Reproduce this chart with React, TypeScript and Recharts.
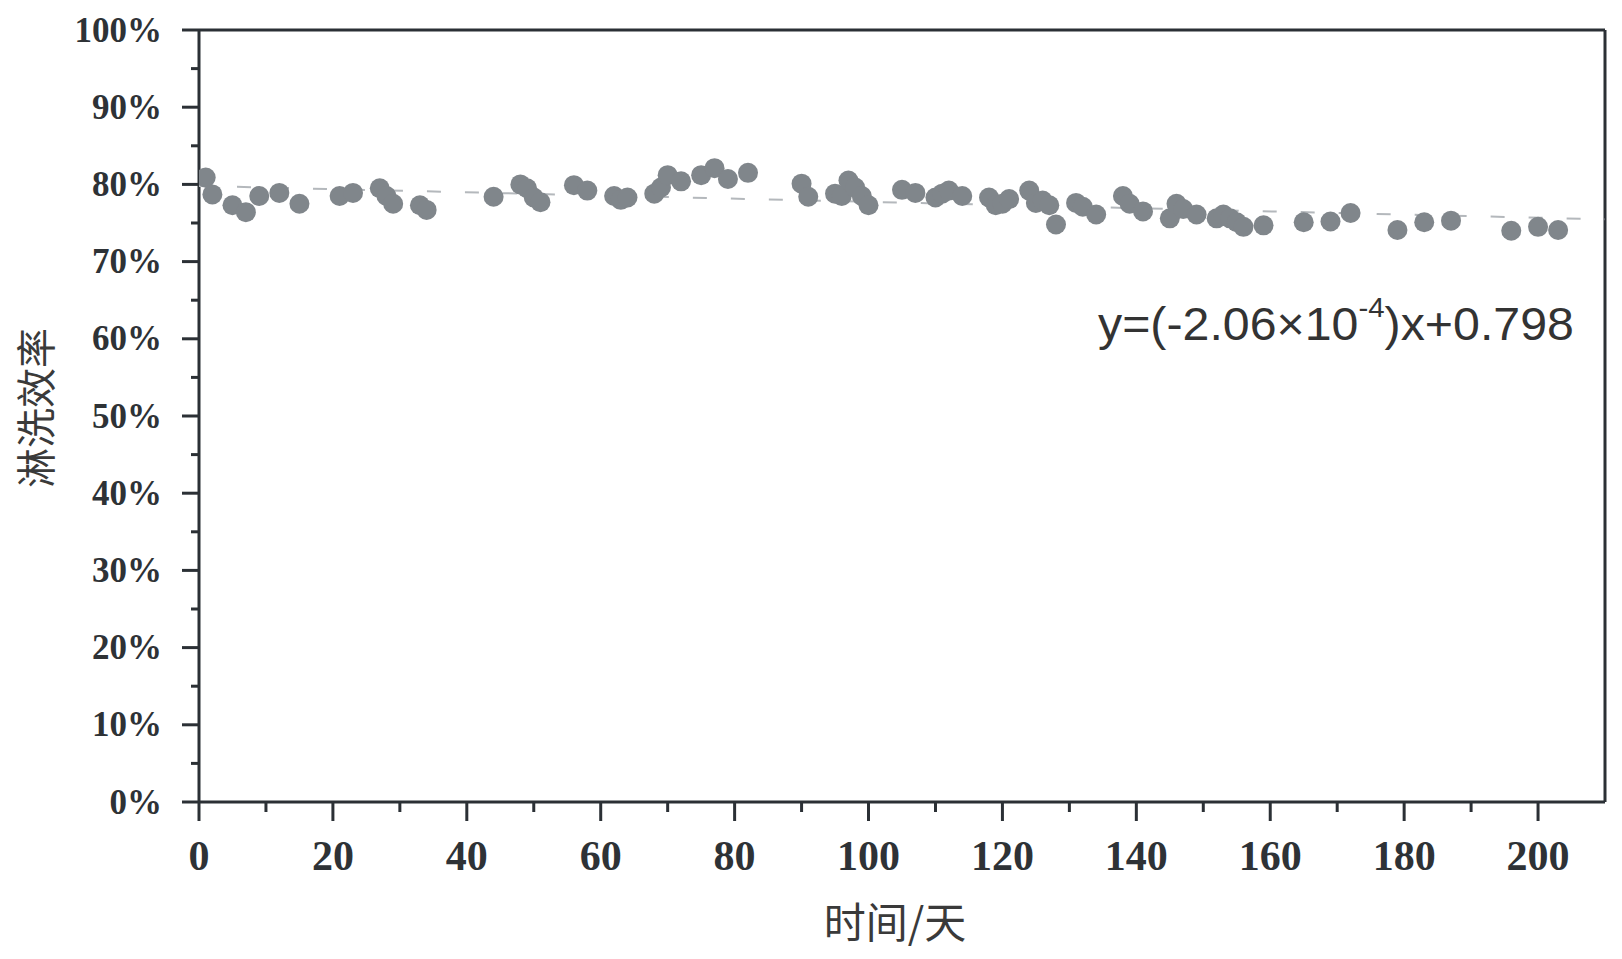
import React from "react";
import { ScatterChart, Scatter, XAxis, YAxis, ReferenceLine } from "recharts";

const days = [1, 2, 5, 7, 9, 12, 15, 21, 23, 27, 28, 29, 33, 34, 44, 48, 49, 50, 51, 56, 58, 62, 63, 64, 68, 69, 70, 72, 75, 77, 79, 82, 90, 91, 95, 96, 97, 98, 99, 100, 105, 107, 110, 111, 112, 114, 118, 119, 120, 121, 124, 125, 126, 127, 128, 131, 132, 134, 138, 139, 141, 145, 146, 147, 149, 152, 153, 154, 155, 156, 159, 165, 169, 172, 179, 183, 187, 196, 200, 203];
const efficiency = [80.9, 78.7, 77.3, 76.4, 78.5, 78.9, 77.5, 78.5, 78.9, 79.5, 78.5, 77.5, 77.3, 76.7, 78.4, 80.0, 79.5, 78.3, 77.7, 79.9, 79.2, 78.5, 78.0, 78.3, 78.8, 79.6, 81.2, 80.4, 81.2, 82.1, 80.7, 81.5, 80.1, 78.4, 78.8, 78.5, 80.5, 79.6, 78.5, 77.3, 79.3, 78.9, 78.3, 78.8, 79.2, 78.5, 78.3, 77.3, 77.5, 78.1, 79.2, 77.6, 77.9, 77.3, 74.8, 77.6, 77.1, 76.1, 78.5, 77.5, 76.5, 75.6, 77.5, 76.8, 76.1, 75.6, 76.1, 75.6, 75.1, 74.5, 74.7, 75.1, 75.2, 76.3, 74.1, 75.1, 75.3, 74.0, 74.5, 74.1];

const fitSlope = -2.06e-4 * 100; // percent per day
const fitIntercept = 79.8; // percent
const fitRange = [0, 210];

const xTicks = [0, 10, 20, 30, 40, 50, 60, 70, 80, 90, 100, 110, 120, 130, 140, 150, 160, 170, 180, 190, 200, 210];
const yTicks = [0, 5, 10, 15, 20, 25, 30, 35, 40, 45, 50, 55, 60, 65, 70, 75, 80, 85, 90, 95, 100];

const points = days.map((d, i) => ({ x: d, y: efficiency[i] }));
const fitLine = fitRange.map((x) => ({ x, y: fitIntercept + fitSlope * x }));

const AXIS = "#2b3035";
const POINT = "#80868b";
const TICK_FONT = "'Liberation Serif', 'Times New Roman', serif";

const YTick = (props: any) => {
  const { x, y, payload } = props;
  const v = payload.value;
  const major = v % 10 === 0;
  return (
    <g>
      <line x1={x} x2={x - (major ? 17 : 8)} y1={y} y2={y} stroke={AXIS} strokeWidth={3} />
      {major && (
        <text x={x - 37} y={y} textAnchor="end" dominantBaseline="central" fontFamily={TICK_FONT} fontWeight="bold" fontSize={35} fill="#2e3236">
          {v + "%"}
        </text>
      )}
    </g>
  );
};

const XTick = (props: any) => {
  const { x, y, payload } = props;
  const v = payload.value;
  const major = v % 20 === 0;
  if (v > 200) return <g />;
  return (
    <g>
      <line x1={x} x2={x} y1={y} y2={y + (major ? 19 : 10)} stroke={AXIS} strokeWidth={3} />
      {major && (
        <text x={x} y={y + 54} textAnchor="middle" dominantBaseline="central" fontFamily={TICK_FONT} fontWeight="bold" fontSize={42} fill="#2e3236">
          {v}
        </text>
      )}
    </g>
  );
};

const Dot = (p: any) => <circle cx={p.cx} cy={p.cy} r={10} fill={POINT} />;

export default function App() {
  return (
    <div style={{ position: "relative", width: 1606, height: 943, background: "#fff" }}>
      <ScatterChart width={1606} height={943} margin={{ top: 22, right: 9, left: 0, bottom: 0 }}>
        <XAxis
          type="number"
          dataKey="x"
          domain={[0, 210]}
          ticks={xTicks}
          interval={0}
          allowDataOverflow
          height={149}
          tickSize={0}
          tickMargin={0}
          tickLine={false}
          axisLine={{ stroke: AXIS, strokeWidth: 3 }}
          tick={<XTick />}
        />
        <YAxis
          type="number"
          dataKey="y"
          domain={[0, 100]}
          ticks={yTicks}
          interval={0}
          allowDataOverflow
          width={191}
          tickSize={0}
          tickMargin={0}
          tickLine={false}
          axisLine={{ stroke: AXIS, strokeWidth: 3 }}
          tick={<YTick />}
        />
        <ReferenceLine y={100} stroke={AXIS} strokeWidth={3} />
        <ReferenceLine x={210} stroke={AXIS} strokeWidth={3} />
        <Scatter
          data={fitLine}
          line={{ stroke: "#b4b8bc", strokeWidth: 2, strokeDasharray: "14 24" }}
          shape={() => <g />}
          isAnimationActive={false}
        />
        <Scatter data={points} shape={<Dot />} isAnimationActive={false} />
      </ScatterChart>
      <div
        style={{
          position: "absolute",
          left: 26,
          top: 400,
          transform: "translate(-50%, -50%) rotate(-90deg)",
          fontFamily: "'Noto Sans CJK SC', sans-serif",
          fontSize: 40,
          color: "#3a3a3a",
          whiteSpace: "nowrap",
        }}
      >
        淋洗效率
      </div>
      <div
        style={{
          position: "absolute",
          left: 887,
          top: 911,
          transform: "translate(-50%, -50%)",
          fontFamily: "'Noto Sans CJK SC', sans-serif",
          fontSize: 42,
          color: "#3a3a3a",
          whiteSpace: "nowrap",
        }}
      >
        时间/天
      </div>
      <div
        style={{
          position: "absolute",
          left: 1090,
          top: 316,
          transform: "translateY(-50%) scaleX(1.05)",
          transformOrigin: "left center",
          fontFamily: "'Liberation Sans', Arial, sans-serif",
          fontSize: 46,
          color: "#333",
          whiteSpace: "nowrap",
          lineHeight: 1,
        }}
      >
        y=(-2.06×10<sup style={{ fontSize: 28, verticalAlign: "top", position: "relative", top: -7 }}>-4</sup>)x+0.798
      </div>
    </div>
  );
}
